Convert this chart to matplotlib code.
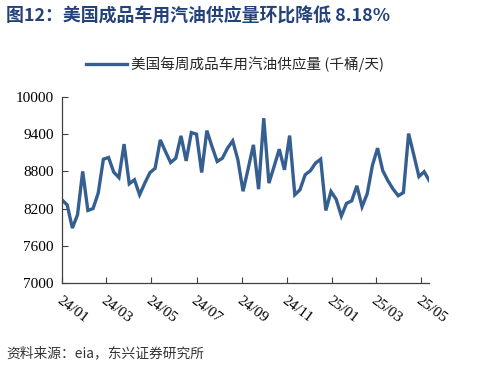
import matplotlib
matplotlib.use("Agg")
import matplotlib.pyplot as plt
import matplotlib.dates as mdates
import pandas as pd
import numpy as np

plt.rcParams['font.family'] = ['Noto Sans CJK SC', 'DejaVu Sans']

start_date = "2024-01-01"
values = [8340, 8260, 7886, 8100, 8800, 8170, 8200, 8450, 8997, 9025,
          8788, 8700, 9240, 8600, 8665, 8423, 8610, 8780, 8850, 9308,
          9120, 8943, 9013, 9373, 8970, 9426, 9400, 8782, 9458, 9200,
          8960, 9013, 9175, 9292, 8987, 8480, 8850, 9228, 8514, 9658,
          8611, 8880, 9158, 8825, 9378, 8423, 8503, 8745, 8810, 8933,
          8997, 8170, 8476, 8350, 8080, 8285, 8325, 8568, 8230, 8440,
          8895, 9175, 8812, 8650, 8515, 8407, 8460, 9410, 9067, 8717,
          8795, 8650]
dates = pd.date_range(start_date, periods=len(values), freq="7D")
tick_dates = pd.date_range("2024-01-01", "2025-05-01", freq="2MS")
tick_labels = [d.strftime("%y/%m") for d in tick_dates]
y_ticks = [7000, 7600, 8200, 8800, 9400, 10000]

title = "图12：美国成品车用汽油供应量环比降低 8.18%"
series_name = "美国每周成品车用汽油供应量 (千桶/天)"
source = "资料来源：eia，东兴证券研究所"

line_color = "#365f91"

fig = plt.figure(figsize=(4.78, 3.68), dpi=100)
ax = fig.add_axes([62/478, 1-283/368, (429.3-62)/478, (283-97)/368])

ax.plot(dates, values, color=line_color, lw=2.4, solid_joinstyle='miter',
        label=series_name)

ax.set_xlim(dates[0], dates[-1])
ax.set_ylim(7000, 10000)
ax.set_yticks(y_ticks)
ax.set_yticklabels([str(v) for v in y_ticks], family='Liberation Serif', fontsize=11)
ax.set_xticks(tick_dates)
ax.set_xticklabels(tick_labels, family='Liberation Serif', fontsize=11,
                   rotation=-37, ha='left', va='top', rotation_mode='anchor')
ax.tick_params(axis='both', direction='in', length=4, width=0.8, color='#404040')
ax.tick_params(axis='x', pad=8)
ax.tick_params(axis='y', pad=6)
for s in ['top', 'right']:
    ax.spines[s].set_visible(False)
for s in ['left', 'bottom']:
    ax.spines[s].set_color('#404040')
    ax.spines[s].set_linewidth(0.9)

leg = fig.legend(loc='center', bbox_to_anchor=(235/478, 1-64/368), frameon=False,
                 fontsize=10.5, handlelength=2.8, handletextpad=0.3)
for t in leg.get_texts():
    t.set_color('#262626')

fig.text(6/478, 1-17/368, title, fontsize=12.9, fontweight='bold', color='#24427a',
         ha='left', va='center')
fig.text(6/478, 1-353/368, source, fontsize=9.9, color='#333333', ha='left', va='center',
         style='italic')

fig.savefig("out.png", dpi=100)
